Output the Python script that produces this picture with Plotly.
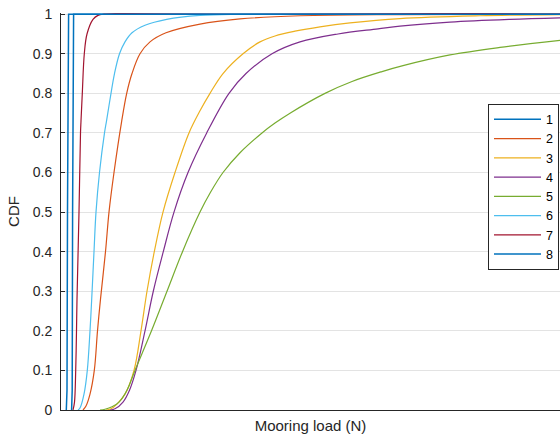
import plotly.graph_objects as go

# ---- data (load in N, cumulative probability) ----
SERIES = ["1", "2", "3", "4", "5", "6", "7", "8"]
COLORS = ["#0072BD", "#D95319", "#EDB120", "#7E2F8E", "#77AC30", "#4DBEEE", "#A2142F", "#0072BD"]

load_1 = [53, 60, 65, 70, 76, 5000]
cdf_1 = [0, 0.05, 0.5, 0.95, 1, 1]

load_2 = [220, 250, 290, 333, 365, 395, 445, 480, 530, 607, 657, 710, 790, 890, 1050, 1390, 1790, 2390, 3390, 5000]
cdf_2 = [0, 0.01, 0.04, 0.1, 0.2, 0.28, 0.4, 0.5, 0.6, 0.73, 0.8, 0.85, 0.9, 0.93, 0.953, 0.975, 0.988, 0.996, 0.999, 1]

load_3 = [450, 500, 560, 640, 730, 800, 860, 933, 1020, 1140, 1280, 1390, 1490, 1620, 1820, 1990, 2140, 2340, 2590, 2890, 3390, 4190, 5000]
cdf_3 = [0, 0.003, 0.015, 0.04, 0.1, 0.2, 0.3, 0.4, 0.5, 0.6, 0.7, 0.756, 0.8, 0.85, 0.9, 0.93, 0.945, 0.957, 0.968, 0.978, 0.989, 0.996, 0.999]

load_4 = [490, 540, 620, 685, 750, 840, 923, 1023, 1130, 1270, 1457, 1680, 1850, 2110, 2390, 2770, 3170, 3390, 3890, 4490, 5000]
cdf_4 = [0, 0.003, 0.02, 0.05, 0.1, 0.2, 0.3, 0.4, 0.5, 0.6, 0.7, 0.8, 0.85, 0.9, 0.93, 0.95, 0.963, 0.97, 0.98, 0.987, 0.991]

load_5 = [390, 440, 510, 580, 660, 740, 905, 1060, 1215, 1390, 1495, 1620, 1790, 2010, 2140, 2290, 2640, 2910, 3210, 3420, 3890, 4390, 5000]
cdf_5 = [0, 0.002, 0.008, 0.02, 0.05, 0.1, 0.2, 0.3, 0.4, 0.5, 0.55, 0.6, 0.65, 0.7, 0.725, 0.75, 0.8, 0.83, 0.855, 0.87, 0.897, 0.916, 0.934]

load_6 = [170, 190, 230, 263, 290, 307, 330, 350, 385, 435, 455, 500, 535, 585, 640, 710, 840, 1057, 1390, 1790, 5000]
cdf_6 = [0, 0.005, 0.04, 0.1, 0.2, 0.28, 0.4, 0.5, 0.6, 0.7, 0.73, 0.8, 0.85, 0.9, 0.93, 0.953, 0.972, 0.987, 0.997, 1, 1]

load_7 = [120, 135, 147, 155, 160, 180, 195, 200, 213, 233, 260, 320, 370, 430, 5000]
cdf_7 = [0, 0.02, 0.1, 0.2, 0.28, 0.5, 0.7, 0.73, 0.8, 0.9, 0.95, 0.987, 0.997, 1, 1]

load_8 = [106, 112, 116, 120, 126, 5000]
cdf_8 = [0, 0.05, 0.5, 0.95, 1, 1]

LOADS = [load_1, load_2, load_3, load_4, load_5, load_6, load_7, load_8]
CDFS = [cdf_1, cdf_2, cdf_3, cdf_4, cdf_5, cdf_6, cdf_7, cdf_8]

Y_TICKS = [0, 0.1, 0.2, 0.3, 0.4, 0.5, 0.6, 0.7, 0.8, 0.9, 1]
Y_TICK_TEXT = ["0", "0.1", "0.2", "0.3", "0.4", "0.5", "0.6", "0.7", "0.8", "0.9", "1"]

FONT = "Liberation Sans, Arial, sans-serif"
AX = "#262626"

fig = go.Figure()
for name, color, x, y in zip(SERIES, COLORS, LOADS, CDFS):
    steep = name in ("1", "8")
    fig.add_trace(go.Scatter(
        x=x, y=y, name=name, mode="lines",
        line=dict(color=color, width=1.5 if steep else 1.2,
                  shape="linear" if steep else "spline", smoothing=1.0),
    ))

fig.update_layout(
    width=560, height=441,
    margin=dict(l=61, r=0, t=13, b=31),
    paper_bgcolor="white", plot_bgcolor="white",
    font=dict(family=FONT, color=AX, size=14),
    showlegend=True,
    legend=dict(
        x=0.998, xanchor="right", y=0.7715, yanchor="top",
        bgcolor="white", bordercolor=AX, borderwidth=1,
        font=dict(size=12.5, color="#000000"),
        itemwidth=47, tracegroupgap=0,
    ),
    xaxis=dict(
        range=[0, 4990], showticklabels=False, ticks="", showgrid=False,
        showline=True, linecolor=AX, linewidth=1, zeroline=False,
        title=dict(text="Mooring load (N)", font=dict(size=15, color=AX), standoff=10),
    ),
    yaxis=dict(
        range=[0, 1.003], tickvals=Y_TICKS, ticktext=Y_TICK_TEXT,
        ticks="inside", ticklen=4, tickcolor=AX, tickfont=dict(size=14, color=AX),
        ticklabelstandoff=5, ticklabeloverflow="allow",
        showgrid=True, gridcolor="#E3E3E3", gridwidth=1,
        showline=True, linecolor=AX, linewidth=1, zeroline=False,
        title=dict(text="CDF", font=dict(size=15, color=AX), standoff=9),
    ),
)

fig.write_html(
    "out.html",
    config={"displayModeBar": False},
    post_script="document.body.style.margin='0';document.body.style.overflow='hidden';",
)
